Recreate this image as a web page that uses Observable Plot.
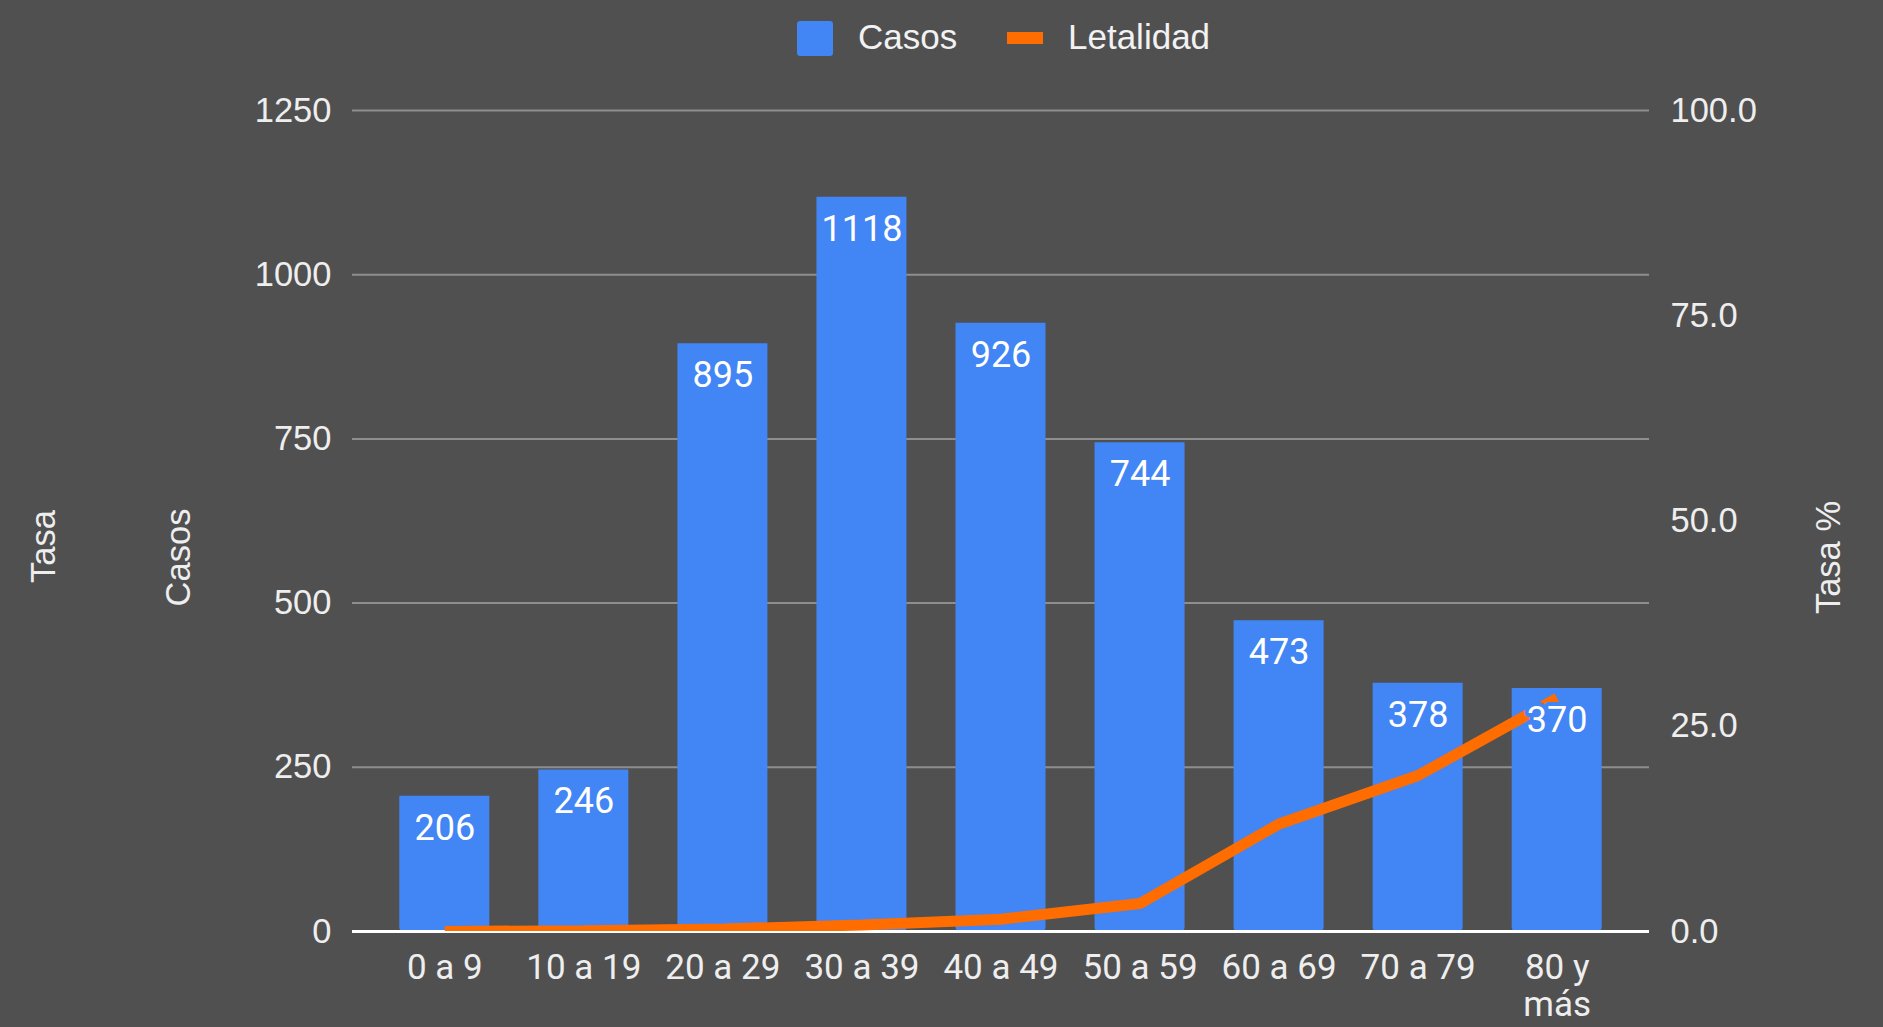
<!DOCTYPE html>
<html>
<head>
<meta charset="utf-8">
<script src="https://cdn.jsdelivr.net/npm/d3@7"></script>
<script src="https://cdn.jsdelivr.net/npm/@observablehq/plot@0.6"></script>
<style>
  html, body { margin: 0; padding: 0; background: #505050; }
  #wrap { width: 1883px; height: 1027px; background: #505050; overflow: hidden; }
  #legend { position: relative; width: 1883px; height: 70px; font-family: "Liberation Sans", Arial, sans-serif; font-size: 35px; color: #f2f2f2; }
  #legend .sw { position: absolute; }
  #legend .lb { position: absolute; top: 17px; line-height: 40px; }
</style>
</head>
<body>
<div id="wrap">
  <div id="legend">
    <div class="sw" style="left:797px; top:21px; width:36px; height:35px; background:#4285F4; border-radius:3px;"></div>
    <div class="lb" style="left:858px;">Casos</div>
    <div class="sw" style="left:1007px; top:32px; width:36px; height:12px; background:#FF6D00;"></div>
    <div class="lb" style="left:1068px;">Letalidad</div>
  </div>
  <div id="chart"></div>
</div>
<script>
const categories = ["0 a 9", "10 a 19", "20 a 29", "30 a 39", "40 a 49", "50 a 59", "60 a 69", "70 a 79", "80 y\nmás"];
const casos = [206, 246, 895, 1118, 926, 744, 473, 378, 370];
const letalidad = [0.0, 0.1, 0.3, 0.8, 1.5, 3.4, 13.1, 19.0, 28.4];
const casosTicks = [0, 250, 500, 750, 1000, 1250];
const tasaTicks = [0, 25, 50, 75, 100];
const casosMax = 1250;
const tasaMax = 100;
const k = casosMax / tasaMax;

const data = categories.map((c, i) => ({cat: c, casos: casos[i], tasa: letalidad[i]}));

const BLUE = "#4285F4";
const ORANGE = "#FF6D00";
const TXT = "#eeeeee";
const sans = "Liberation Sans, Arial, sans-serif";

const chart = Plot.plot({
  width: 1883,
  height: 957,
  marginLeft: 352,
  marginRight: 234,
  marginTop: 40,
  marginBottom: 96,
  style: {background: "#505050", color: TXT, fontFamily: sans, fontSize: "34.5px", overflow: "visible"},
  x: {domain: categories, paddingInner: 0.3525, paddingOuter: 0.34, round: false, axis: null},
  y: {domain: [0, casosMax], axis: null},
  marks: [
    Plot.gridY(casosTicks.filter(t => t > 0), {stroke: "#8e8e8e", strokeWidth: 2, strokeOpacity: 1}),
    Plot.barY(data, {x: "cat", y: "casos", fill: BLUE, ry2: 4}),
    Plot.ruleY([0], {stroke: "#ffffff", strokeWidth: 3}),
    Plot.line(data, {x: "cat", y: d => d.tasa * k, stroke: ORANGE, strokeWidth: 11, strokeLinecap: "butt", strokeLinejoin: "bevel", clip: true}),
    Plot.text(data, {x: "cat", y: "casos", text: d => String(d.casos), dy: 32, fill: "#ffffff", stroke: BLUE, strokeWidth: 8, fontSize: 36, fontFamily: "Roboto, sans-serif", lineAnchor: "middle"}),
    Plot.axisY({anchor: "left", ticks: casosTicks, tickFormat: d => String(d), tickSize: 0, tickPadding: 21, label: null, fontSize: 34.5, fontFamily: sans}),
    Plot.axisY({anchor: "right", ticks: tasaTicks.map(t => t * k), tickFormat: d => (d / k).toFixed(1), tickSize: 0, tickPadding: 21, label: null, fontSize: 34.5, fontFamily: sans}),
    Plot.text(categories, {x: d => d, text: d => d, frameAnchor: "bottom", lineAnchor: "top", dy: 21, fontSize: 35, lineHeight: 1.06, fontFamily: "Roboto, sans-serif", fill: TXT}),
    Plot.text(["Tasa"], {text: d => d, frameAnchor: "left", textAnchor: "middle", dx: -309, dy: 25.5, rotate: -90, fontSize: 34.5, fontFamily: sans, fill: TXT}),
    Plot.text(["Casos"], {text: d => d, frameAnchor: "left", textAnchor: "middle", dx: -174, dy: 36.5, rotate: -90, fontSize: 34.5, fontFamily: sans, fill: TXT}),
    Plot.text(["Tasa %"], {text: d => d, frameAnchor: "right", textAnchor: "middle", dx: 179, dy: 36.5, rotate: -90, fontSize: 34.5, fontFamily: sans, fill: TXT})
  ]
});
document.getElementById("chart").appendChild(chart);
</script>
</body>
</html>
